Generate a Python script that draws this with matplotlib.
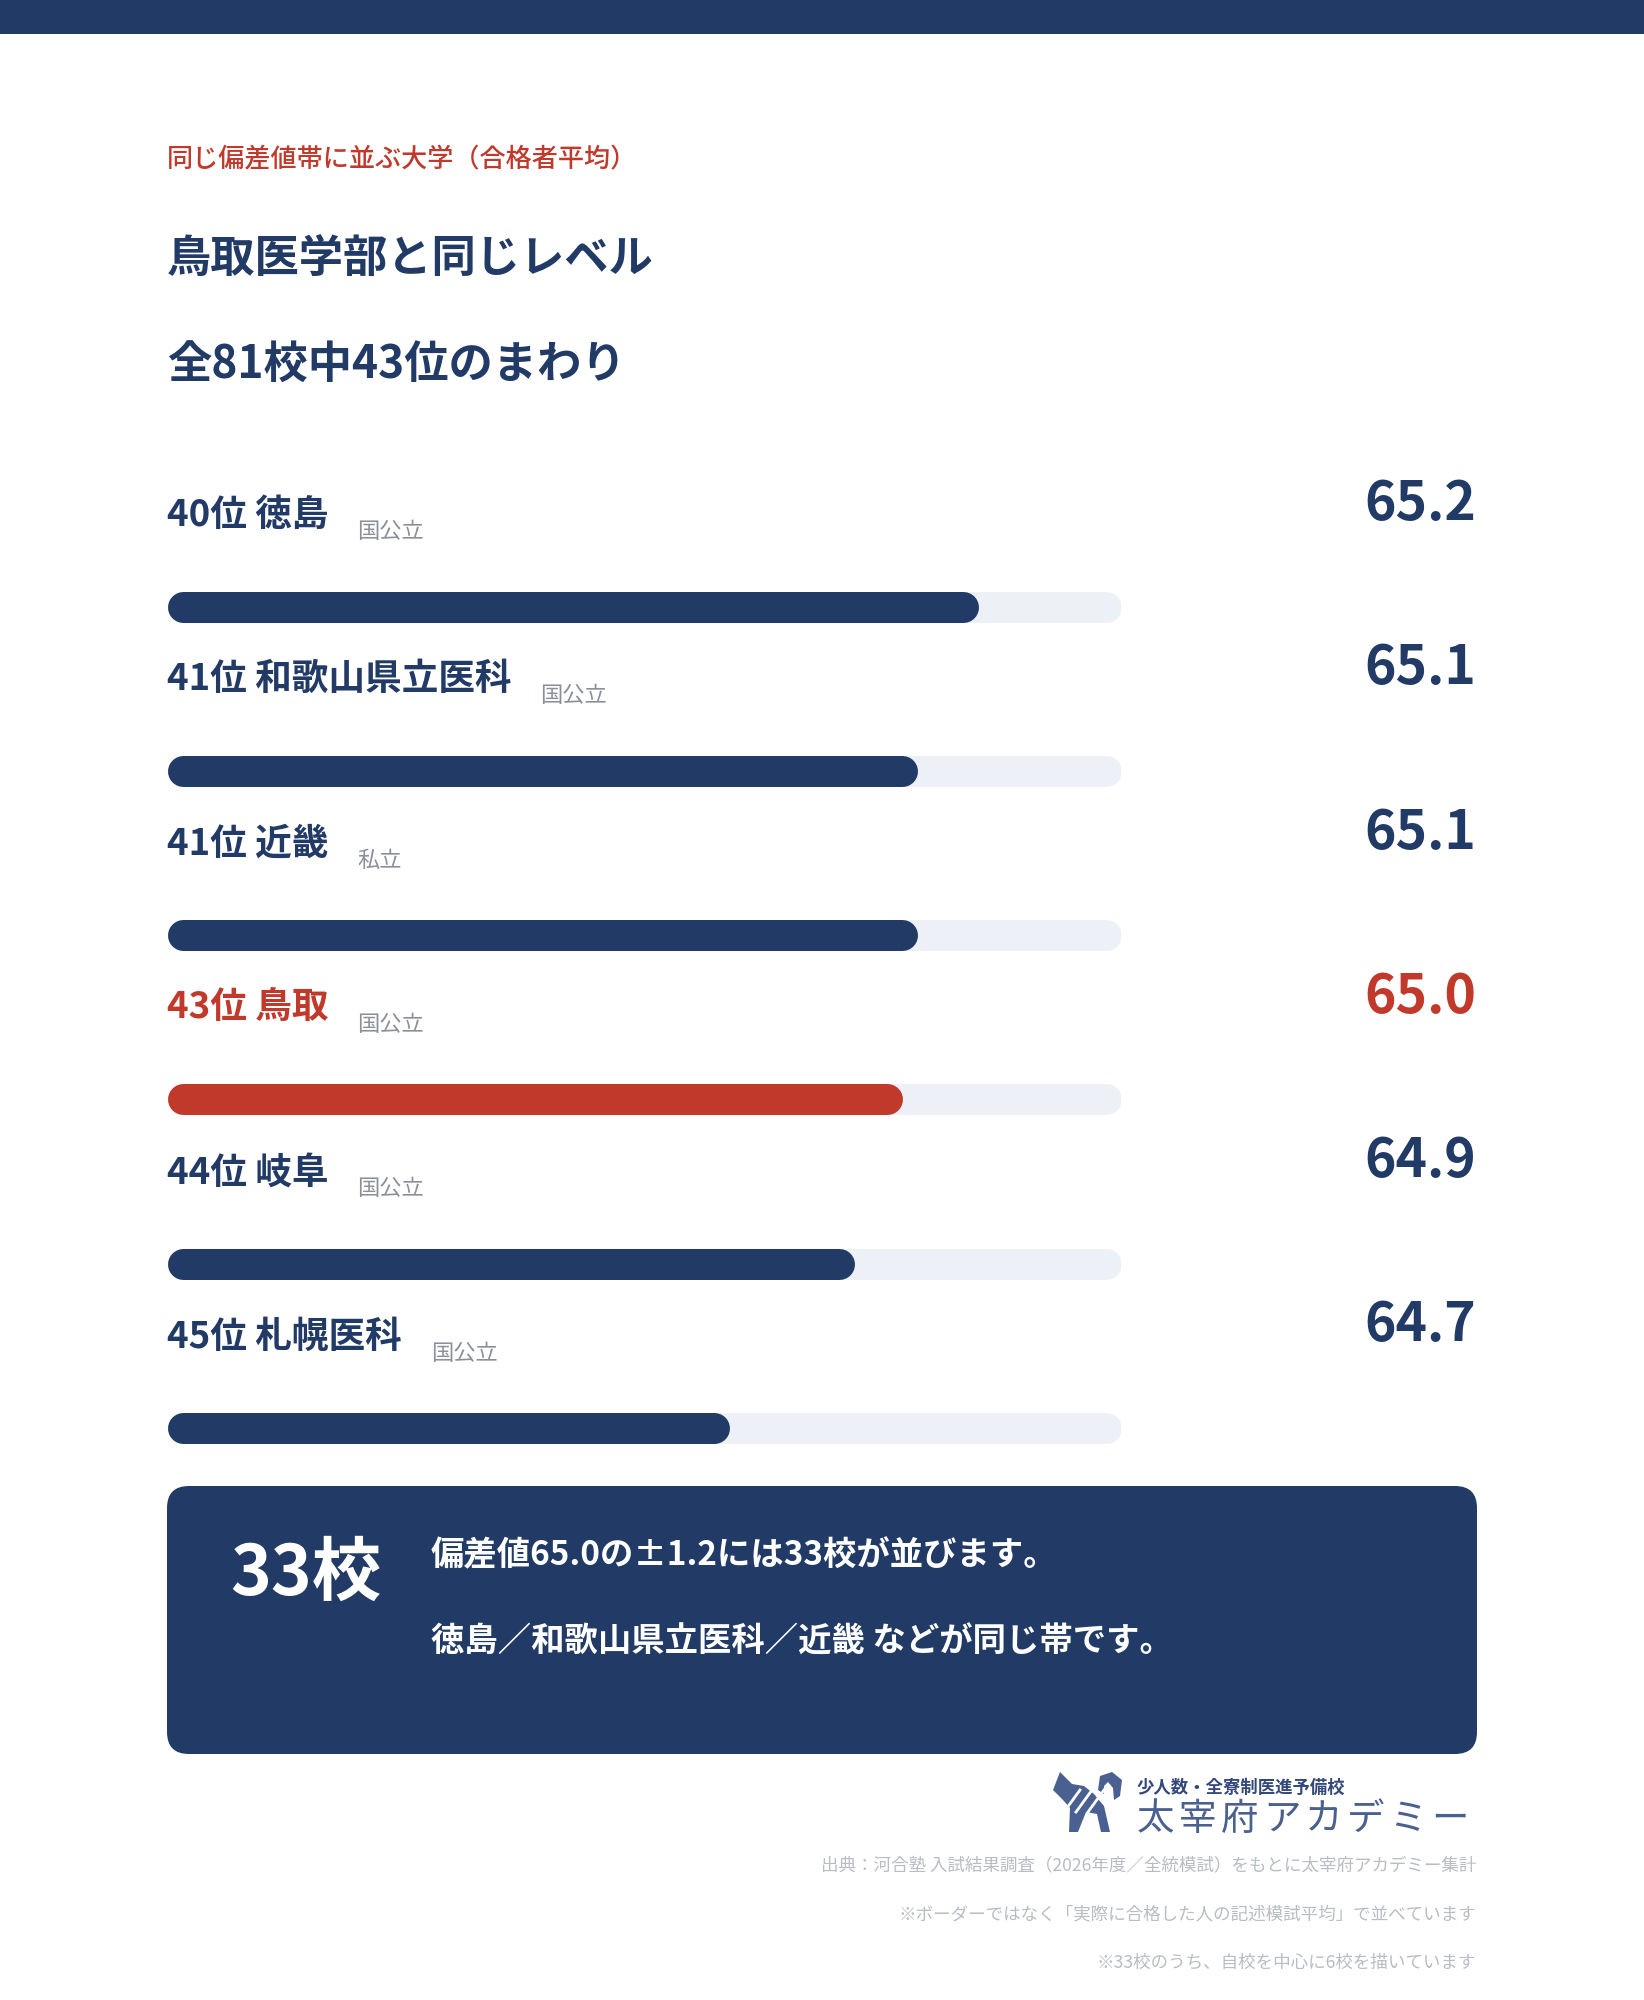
import matplotlib.pyplot as plt
from matplotlib.patches import FancyBboxPatch, Rectangle, Polygon

plt.rcParams['font.family'] = ['Noto Sans CJK JP', 'DejaVu Sans']

# データ
ranks = [40, 41, 41, 43, 44, 45]
names = ['徳島', '和歌山県立医科', '近畿', '鳥取', '岐阜', '札幌医科']
kinds = ['国公立', '国公立', '私立', '国公立', '国公立', '国公立']
scores = [65.2, 65.1, 65.1, 65.0, 64.9, 64.7]
bar_pct = [85.1, 78.7, 78.7, 77.1, 72.1, 59.0]  # バーの長さ（トラックに対する%）
target = 3  # 鳥取

notes = [
    '出典：河合塾 入試結果調査（2026年度／全統模試）をもとに太宰府アカデミー集計',
    '※ボーダーではなく「実際に合格した人の記述模試平均」で並べています',
    '※33校のうち、自校を中心に6校を描いています',
]

NAVY = '#213a66'
RED = '#c0392b'
TRACK = '#edf0f7'
GRAY = '#8a8f99'
LIGHT = '#b8bcc5'
LOGO = '#4a6090'

W, H = 1644, 2000
fig = plt.figure(figsize=(W / 100, H / 100), dpi=100)
fig.patch.set_facecolor('white')

# 全体用（1単位=1ピクセル）
ax = fig.add_axes([0, 0, 1, 1])
ax.set_xlim(0, W)
ax.set_ylim(H, 0)
ax.axis('off')

ax.add_patch(Rectangle((0, 0), W, 34, color=NAVY, lw=0))

L = 167
R = 1476
ax.text(L, 167, '同じ偏差値帯に並ぶ大学（合格者平均）', fontsize=18.8, color=RED,
        fontweight='medium', va='baseline')
ax.text(L, 273, '鳥取医学部と同じレベル', fontsize=31.9, color=NAVY,
        fontweight='bold', va='baseline')
ax.text(L, 379, '全81校中43位のまわり', fontsize=31.9, color=NAVY,
        fontweight='bold', va='baseline')

# バー
row0 = 606.5
gap = 164.3
n = len(names)
top = row0 - gap / 2
bottom = row0 + gap * (n - 0.5)
track_l, track_r = 167, 1121
ax_bar = fig.add_axes([track_l / W, 1 - bottom / H, (track_r - track_l) / W, (bottom - top) / H])
ax_bar.set_xlim(0, 100)
ax_bar.set_ylim(n - 0.5, -0.5)
ax_bar.axis('off')
ax_bar.patch.set_alpha(0)

lw = 31 * 0.72
cap = 15.5 / (track_r - track_l) * 100
for i, p in enumerate(bar_pct):
    c = RED if i == target else NAVY
    ax_bar.plot([cap, 100 - cap], [i, i], color=TRACK, lw=lw, solid_capstyle='round')
    ax_bar.plot([cap, p - cap], [i, i], color=c, lw=lw, solid_capstyle='round')

fig.canvas.draw()
renderer = fig.canvas.get_renderer()

for i in range(n):
    c = RED if i == target else NAVY
    yb = row0 + gap * i - 80.5
    t = ax.text(L, yb, f'{ranks[i]}位 {names[i]}', fontsize=26.4, color=c,
                fontweight='bold', va='baseline')
    ext = t.get_window_extent(renderer)
    ax.text(ext.x1 + 29, yb + 12, kinds[i], fontsize=16, color=GRAY, va='baseline')
    ax.text(R, yb - 6, f'{scores[i]:.1f}', fontsize=38.5, color=c,
            fontweight='bold', va='baseline', ha='right')

# まとめボックス
ax.add_patch(FancyBboxPatch((L, 1486), R - L + 1, 268,
                            boxstyle='round,pad=0,rounding_size=22',
                            fc=NAVY, ec='none'))
ax.text(230, 1595, '33校', fontsize=50, color='white', fontweight='bold', va='baseline')
ax.text(431, 1565, f'偏差値{scores[target]:.1f}の±1.2には33校が並びます。', fontsize=24,
        color='white', fontweight='bold', va='baseline')
ax.text(431, 1652, '徳島／和歌山県立医科／近畿 などが同じ帯です。', fontsize=24,
        color='white', fontweight='bold', va='baseline')

# ロゴ
dog = [(1053, 1790), (1060, 1772), (1072, 1784), (1084, 1786), (1094, 1794),
       (1104, 1806), (1110, 1832), (1101, 1832), (1097, 1814), (1086, 1812),
       (1078, 1832), (1069, 1832), (1070, 1808), (1063, 1800)]
ax.add_patch(Polygon(dog, closed=True, fc=LOGO, ec='none'))
tail = [(1098, 1790), (1100, 1776), (1112, 1772), (1122, 1780), (1120, 1796),
        (1114, 1800), (1113, 1788), (1108, 1782), (1104, 1786), (1104, 1794)]
ax.add_patch(Polygon(tail, closed=True, fc=LOGO, ec='none'))
for k in range(3):
    ax.plot([1064 + k * 12, 1080 + k * 12], [1812, 1790], color='white', lw=2)

ax.text(1137, 1793, '少人数・全寮制医進予備校', fontsize=12.5, color='#34497a',
        fontweight='bold', va='baseline')
for k, ch in enumerate('太宰府アカデミー'):
    ax.text(1137 + k * 42, 1830, ch, fontsize=27, color=LOGO, va='baseline')

for k, s in enumerate(notes):
    ax.text(R, 1870 + k * 49, s, fontsize=12.65, color=LIGHT, va='baseline', ha='right')

fig.savefig('out.png', dpi=100)
